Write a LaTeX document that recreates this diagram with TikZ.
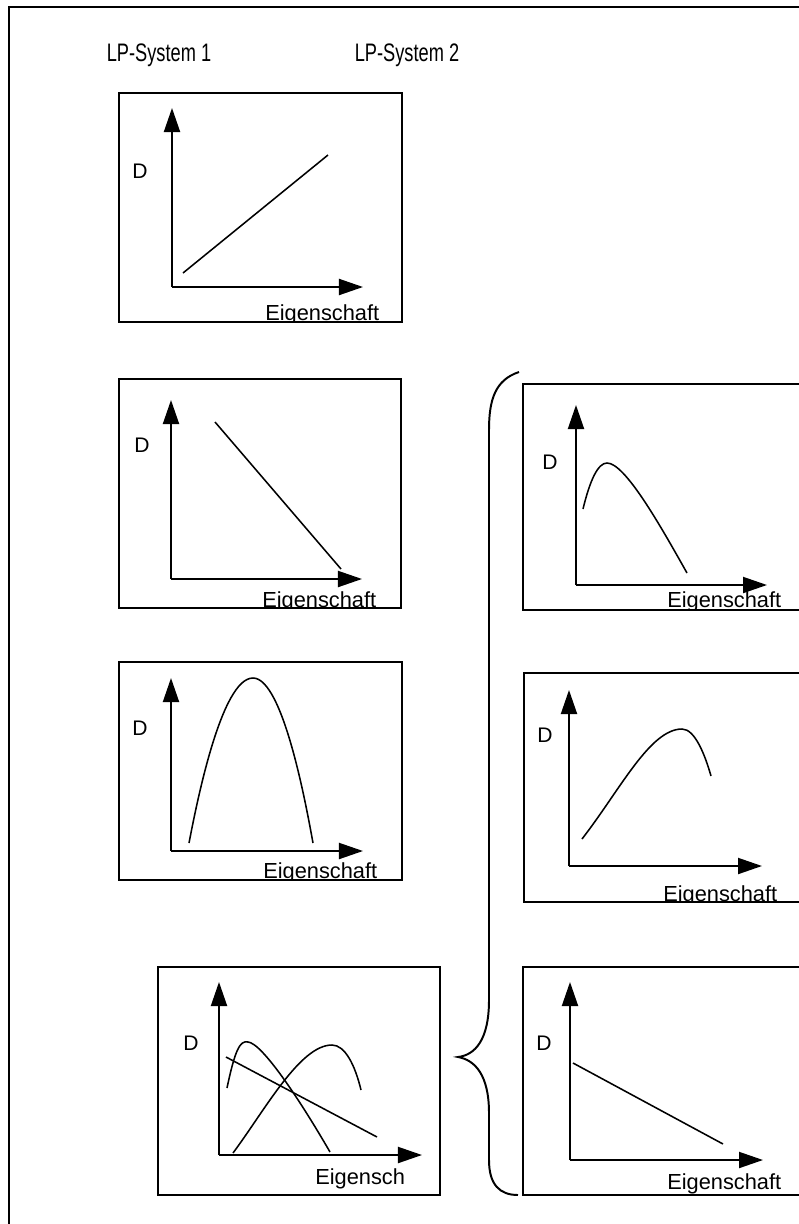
\documentclass[tikz,border=0pt]{standalone}
\usepackage{fontspec}
\setmainfont{Liberation Sans}
\usetikzlibrary{arrows.meta}

\tikzset{
  kasten/.style={draw, line width=1.4pt},
  achse/.style={line width=1.4pt, -{Triangle[length=6mm, width=4mm]}},
  kurve/.style={line width=1.1pt},
  titel/.style={font=\fontsize{18}{20}\selectfont},
  dlabel/.style={font=\fontsize{15}{17}\selectfont},
  xlabel/.style={font=\fontsize{15.5}{17}\selectfont, anchor=base west, inner sep=0pt},
}

\begin{document}
\begin{tikzpicture}[x=0.025cm, y=-0.025cm]

\useasboundingbox (0,0) rectangle (799,1224);
\clip (0,0) rectangle (799,1224);

% rahmen
\draw[line width=1.4pt] (820,7) -- (9,7) -- (9,1240);

% --- titel ---
\node[titel] (sys1) at (159,55) {\scalebox{0.72}[1]{LP-System 1}};
\node[titel] (sys2) at (407,55) {\scalebox{0.72}[1]{LP-System 2}};

% --- LP-System 1: steigend ---
\begin{scope}
  \clip (119,93) rectangle (402,322);
  \node[dlabel] (d1) at (140,171) {D};
  \node[xlabel] (e1) at (265,320) {Eigenschaft};
  \draw[kurve] (183,273) -- (328,155);
\end{scope}
\coordinate (o1) at (172,287);
\draw[achse] (o1) -- (172,108);
\draw[achse] (o1) -- (363,287);
\draw[kasten] (119,93) rectangle (402,322);

% --- LP-System 1: fallend ---
\begin{scope}
  \clip (119,379) rectangle (401,608);
  \node[dlabel] (d2) at (142,445) {D};
  \node[xlabel] (e2) at (262,607) {Eigenschaft};
  \draw[kurve] (215,422) -- (341,569);
\end{scope}
\coordinate (o2) at (171,579);
\draw[achse] (o2) -- (171,400);
\draw[achse] (o2) -- (362,579);
\draw[kasten] (119,379) rectangle (401,608);

% --- LP-System 1: glocke ---
\begin{scope}
  \clip (119,662) rectangle (402,880);
  \node[dlabel] (d3) at (140,728) {D};
  \node[xlabel] (e3) at (263,878) {Eigenschaft};
  \draw[kurve] (189,843) parabola bend (253,678) (313,843);
\end{scope}
\coordinate (o3) at (171,851);
\draw[achse] (o3) -- (171,678);
\draw[achse] (o3) -- (363,851);
\draw[kasten] (119,662) rectangle (402,880);

% --- LP-System 1: ueberlagert ---
\begin{scope}
  \clip (158,967) rectangle (440,1195);
  \node[dlabel] (d4) at (191,1043) {D};
  \node[xlabel] (e4) at (315,1184) {Eigensch};
  \draw[kurve] (227,1088) .. controls (235,1050) and (240,1040) .. (248,1042)
    .. controls (262,1043) and (300,1100) .. (330,1152);
  \draw[kurve] (233,1153) .. controls (265,1110) and (300,1045) .. (332,1045)
    .. controls (345,1045) and (355,1065) .. (361,1090);
  \draw[kurve] (226,1057) -- (377,1137);
\end{scope}
\coordinate (o4) at (219,1155);
\draw[achse] (o4) -- (219,982);
\draw[achse] (o4) -- (422,1155);
\draw[kasten] (158,967) rectangle (440,1195);

% --- LP-System 2: frueher gipfel ---
\begin{scope}
  \clip (523,384) rectangle (820,610);
  \node[dlabel] (d5) at (550,462) {D};
  \node[xlabel] (e5) at (667,607) {Eigenschaft};
  \draw[kurve] (583,509) .. controls (590,480) and (598,463) .. (607,463)
    .. controls (625,463) and (660,525) .. (687,573);
\end{scope}
\coordinate (o5) at (576,585);
\draw[achse] (o5) -- (576,405);
\draw[achse] (o5) -- (767,585);
\draw[kasten] (523,384) rectangle (820,610);

% --- LP-System 2: spaeter gipfel ---
\begin{scope}
  \clip (524,673) rectangle (820,902);
  \node[dlabel] (d6) at (545,735) {D};
  \node[xlabel] (e6) at (663,901) {Eigenschaft};
  \draw[kurve] (582,839) .. controls (620,790) and (650,729) .. (682,729)
    .. controls (695,729) and (705,755) .. (711,776);
\end{scope}
\coordinate (o6) at (569,866);
\draw[achse] (o6) -- (569,690);
\draw[achse] (o6) -- (762,866);
\draw[kasten] (524,673) rectangle (820,902);

% --- LP-System 2: fallend ---
\begin{scope}
  \clip (523,967) rectangle (820,1195);
  \node[dlabel] (d7) at (544,1043) {D};
  \node[xlabel] (e7) at (667,1189) {Eigenschaft};
  \draw[kurve] (573,1063) -- (723,1144);
\end{scope}
\coordinate (o7) at (570,1160);
\draw[achse] (o7) -- (570,982);
\draw[achse] (o7) -- (763,1160);
\draw[kasten] (523,967) rectangle (820,1195);

% --- klammer ---
\draw[line width=1.4pt] (519,372) .. controls (495,380) and (489,400) .. (489,430)
  -- (489,1000) .. controls (489,1040) and (475,1055) .. (458,1057)
  .. controls (475,1060) and (489,1075) .. (489,1113)
  -- (489,1160) .. controls (489,1185) and (500,1195) .. (518,1195);

\end{tikzpicture}
\end{document}
